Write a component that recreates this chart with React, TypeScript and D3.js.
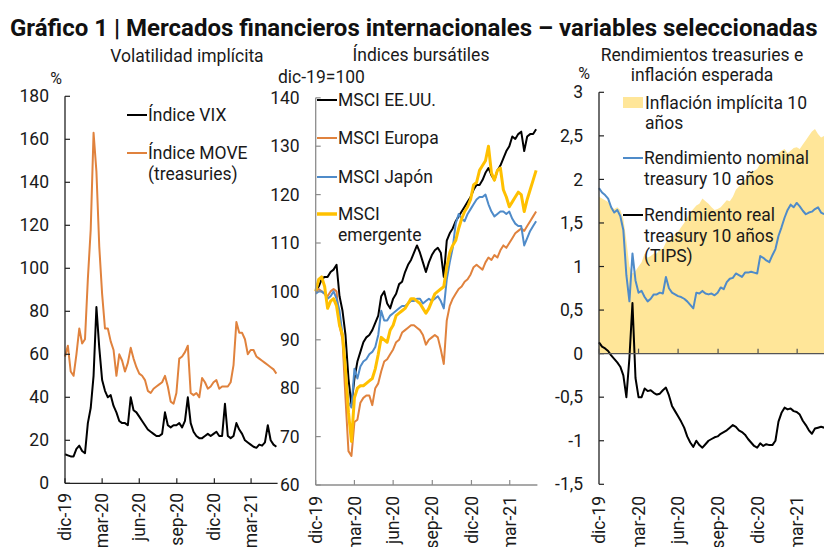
import React from "react";
import * as d3 from "d3";

// weekly observations, from end of December 2019 to early June 2021
const weeks = d3.timeDay.range(new Date(2019, 11, 31), new Date(2021, 5, 2), 7);
const endDate = new Date(2021, 5, 4);

const tickDates = [
  new Date(2019, 11, 31),
  new Date(2020, 2, 31),
  new Date(2020, 5, 30),
  new Date(2020, 8, 30),
  new Date(2020, 11, 31),
  new Date(2021, 2, 31),
];
const tickLabels = ["dic-19", "mar-20", "jun-20", "sep-20", "dic-20", "mar-21"];

// Volatilidad implícita (%)
const vix = [
  13.5, 13, 12.5, 12.5, 16, 17.5, 15, 14, 28, 35,
  50, 82, 63, 48, 43, 40, 41, 36, 33, 29,
  28, 28, 27, 40, 34, 33, 31, 29, 27, 25,
  24, 23, 22, 22, 23, 33, 27, 26, 27, 27,
  28, 26, 29, 40, 28, 24, 22, 21, 21, 22,
  23, 22, 23, 24, 22, 22, 37, 22, 21, 22,
  28, 25, 23, 20, 19, 18, 17, 16.5, 18, 17.5,
  19, 27, 20, 18, 17,
];
const move = [
  59, 64, 52, 50, 60, 72, 65, 67, 95, 118,
  163, 145, 110, 88, 72, 72, 66, 62, 50, 60,
  57, 52, 56, 63, 58, 54, 51, 50, 48, 43,
  42, 44, 45, 46, 47, 50, 45, 38, 37, 42,
  58, 59, 61, 64, 42, 41, 42, 40, 49, 47,
  44, 45, 47, 48, 44, 45, 45, 45, 47, 55,
  75, 70, 70, 67, 60, 62, 62, 59, 58, 57,
  56, 55, 54, 53, 51,
];

// Índices bursátiles (dic-19 = 100)
const msciUS = [
  100, 101, 102.5, 103, 103, 104, 104.5, 105.5, 99, 96,
  91, 82, 76.5, 82, 85.5, 87.5, 89.5, 90.5, 91, 92,
  93.5, 95, 99, 100, 97.5, 96.5, 98.5, 99.5, 101.5, 102,
  104, 105.5, 106.5, 108, 109.5, 108, 106, 104, 106, 107.5,
  108.5, 109, 108, 103, 110.5, 112, 113, 114.5, 115.5, 116.5,
  117.5, 118.5, 119.5, 121, 122, 122, 123, 124.5, 125.5, 124,
  123, 125, 126, 127.5, 129, 130, 132, 131.5, 132.5, 133,
  129, 132, 132.5, 132.5, 133.5,
];
const msciEurope = [
  100, 100.5, 100, 99.5, 99, 100, 100.5, 100, 93, 90,
  78, 67, 66, 73, 73.5, 77, 78, 78.5, 78.5, 76.5,
  80, 81, 83.5, 85.5, 86, 87, 88, 89.5, 90, 91.5,
  92, 92.5, 93, 93, 92.5, 92, 91, 89, 90, 90.5,
  91, 90.5, 88, 85, 94, 97, 98.5, 99.5, 100.5, 101,
  102, 102.5, 103.5, 105, 105.5, 105, 104.5, 106, 107, 106.5,
  107.5, 107, 108.5, 109.5, 109, 110, 111, 112, 112.5, 113,
  112.5, 113.5, 114.5, 115.5, 116.5,
];
const msciJapan = [
  99.5, 100, 100, 99.5, 98.5, 99, 100, 98.5, 96, 91,
  83, 77, 76, 84, 82, 84.5, 85.5, 86, 87, 87.5,
  88.5, 91, 96, 94, 94, 95, 95.5, 96, 96.5, 97,
  97, 97.5, 98, 98, 98.5, 98.5, 97.5, 98, 98.5, 98,
  98.5, 99, 98, 96.5, 102.5, 106, 109, 114, 116, 115,
  114.5, 116, 117, 118, 119, 119.5, 119.5, 120, 118, 116.5,
  115.5, 116, 116.5, 116.5, 116, 116.5, 115, 114, 113.5, 113.5,
  109.5, 111, 112.5, 113.5, 114.5,
];
const msciEmerging = [
  100, 102.5, 103, 101, 96.5, 98, 98.5, 97, 93, 91,
  84, 75, 69, 78, 80, 80.5, 80.5, 81, 81.5, 82,
  84, 87, 90.5, 90, 89.5, 92, 93, 95, 95.5, 96,
  96.5, 97.5, 98.5, 98.5, 98, 97.5, 96.5, 95.5, 96.5, 98,
  99.5, 100, 100.5, 101, 105, 108, 109.5, 110.5, 113, 115,
  116.5, 117.5, 119, 122, 122.5, 125, 126, 127, 130, 124.5,
  123, 125, 125.5, 121, 119.5, 117.5, 118.5, 119.5, 120.5, 120,
  116.5, 119, 121, 123, 125,
];

// Rendimientos treasuries e inflación esperada (%)
const breakeven = [
  1.8, 1.78, 1.76, 1.74, 1.68, 1.66, 1.68, 1.65, 1.55, 1.3,
  1.0, 0.92, 0.95, 1.0, 1.05, 1.15, 1.1, 1.12, 1.15, 1.15,
  1.2, 1.2, 1.28, 1.3, 1.32, 1.38, 1.4, 1.45, 1.5, 1.56,
  1.62, 1.66, 1.7, 1.72, 1.78, 1.75, 1.72, 1.68, 1.65, 1.66,
  1.68, 1.72, 1.76, 1.75, 1.8, 1.88, 1.92, 1.95, 2.0, 2.03,
  2.08, 2.1, 2.12, 2.18, 2.2, 2.22, 2.2, 2.28, 2.25, 2.3,
  2.33, 2.35, 2.3, 2.33, 2.36, 2.37, 2.35, 2.4, 2.45, 2.5,
  2.55, 2.58, 2.52, 2.48, 2.5,
];
const nominal10y = [
  1.9, 1.85, 1.82, 1.78, 1.68, 1.62, 1.65, 1.58, 1.42, 0.9,
  0.6, 1.15, 0.84, 0.7, 0.72, 0.65, 0.6, 0.63, 0.68, 0.68,
  0.7, 0.69, 0.88, 0.75, 0.7, 0.68, 0.66, 0.65, 0.63, 0.6,
  0.56, 0.52, 0.7, 0.69, 0.72, 0.69, 0.68, 0.69, 0.67, 0.7,
  0.76, 0.74, 0.82, 0.86, 0.87, 0.92, 0.9, 0.88, 0.93, 0.93,
  0.94, 0.93, 0.92, 1.12, 1.1, 1.07, 1.05, 1.13, 1.2, 1.35,
  1.45, 1.56, 1.65, 1.71, 1.68, 1.73, 1.69, 1.64, 1.6, 1.62,
  1.63, 1.66, 1.68, 1.62, 1.6,
];
const real10y = [
  0.13, 0.08, 0.06, 0.03, -0.02, -0.06, -0.1, -0.15, -0.25, -0.5,
  -0.05, 0.58, -0.28, -0.5, -0.5, -0.4, -0.43, -0.42, -0.45, -0.47,
  -0.46, -0.42, -0.39, -0.48, -0.6, -0.66, -0.72, -0.78, -0.85, -0.95,
  -1.02, -1.07, -1.0, -1.05, -1.08, -1.04, -1.0, -0.98, -0.96, -0.95,
  -0.92, -0.9, -0.88, -0.85, -0.82, -0.84, -0.88, -0.9, -0.93, -0.98,
  -1.02, -1.06, -1.08, -1.03, -1.06, -1.04, -1.05, -1.05, -1.0, -0.78,
  -0.68, -0.62, -0.64, -0.63, -0.66, -0.67, -0.7, -0.77, -0.82, -0.88,
  -0.92, -0.86, -0.85, -0.84, -0.85,
];

const FONT = "Roboto, 'Noto Sans', sans-serif";
const TXT = "#1a1a1a";
const FS = 17.5;

const ORANGE = "#E0823D";
const BLUE = "#4F8BC9";
const YELLOW = "#FFC000";
const FILL = "#FFE699";

type Lin = d3.ScaleLinear<number, number>;
type Tim = d3.ScaleTime<number, number>;

function makeLine(x: Tim, y: Lin) {
  return d3
    .line<number>()
    .x((_, i) => x(weeks[i]))
    .y((d) => y(d));
}

function YAxis({ x, y, ticks, color, fmt }: { x: number; y: Lin; ticks: number[]; color: string; fmt?: (v: number) => string }) {
  const [a, b] = y.range();
  return (
    <g>
      <line x1={x} x2={x} y1={a} y2={b} stroke={color} strokeWidth={1.3} />
      {ticks.map((t) => (
        <g key={t}>
          <line x1={x} x2={x + 5} y1={y(t)} y2={y(t)} stroke={color} strokeWidth={1.2} />
          <text x={x - 16} y={y(t)} dy="0.35em" textAnchor="end" fontSize={FS} fill={TXT}>
            {fmt ? fmt(t) : t}
          </text>
        </g>
      ))}
    </g>
  );
}

function XAxis({ x, yLine, yLabel, color }: { x: Tim; yLine: number; yLabel: number; color: string }) {
  const [a, b] = x.range();
  return (
    <g>
      <line x1={a} x2={b} y1={yLine} y2={yLine} stroke={color} strokeWidth={1.3} />
      {tickDates.map((d, i) => (
        <g key={i}>
          <line x1={x(d)} x2={x(d)} y1={yLine} y2={yLine - 5} stroke={color} strokeWidth={1.2} />
          <text
            transform={`translate(${x(d)},${yLabel}) rotate(-90)`}
            dy="0.35em"
            textAnchor="end"
            fontSize={FS}
            fill={TXT}
          >
            {tickLabels[i]}
          </text>
        </g>
      ))}
    </g>
  );
}

function LegendLine({ x, y, color, width = 2, lines }: { x: number; y: number; color: string; width?: number; lines: string[] }) {
  return (
    <g>
      <line x1={x} x2={x + 20} y1={y} y2={y} stroke={color} strokeWidth={width} />
      {lines.map((t, i) => (
        <text key={i} x={x + 21} y={y + i * 20.5} dy="0.35em" fontSize={FS} fill={TXT}>
          {t}
        </text>
      ))}
    </g>
  );
}

export default function App() {
  const start = weeks[0];

  // panel 1 – volatilidad
  const xA = d3.scaleTime().domain([start, endDate]).range([65, 277.6]);
  const yA = d3.scaleLinear().domain([0, 180]).range([483.3, 96.3]);
  const lineA = makeLine(xA, yA);

  // panel 2 – bolsas
  const xB = d3.scaleTime().domain([start, endDate]).range([315.7, 537.4]);
  const yB = d3.scaleLinear().domain([60, 140]).range([485, 97.8]);
  const lineB = makeLine(xB, yB);

  // panel 3 – tasas
  const xC = d3.scaleTime().domain([start, endDate]).range([599, 825.4]);
  const yC = d3.scaleLinear().domain([-1.5, 3]).range([484.3, 92.3]);
  const lineC = makeLine(xC, yC);
  const areaC = d3
    .area<number>()
    .x((_, i) => xC(weeks[i]))
    .y0(yC(0))
    .y1((d) => yC(d));

  const comma = (v: number) => String(v).replace(".", ",");

  return (
    <svg
      width={824}
      height={547}
      style={{ position: "absolute", left: 0, top: 0, background: "#fff" }}
      fontFamily={FONT}
    >
      <rect width={824} height={547} fill="#fff" />
      <text x={10} y={36} fontSize={24} fontWeight={700} fill="#111">
        Gráfico 1 | Mercados financieros internacionales – variables seleccionadas
      </text>

      {/* Volatilidad implícita */}
      <text x={187} y={62} textAnchor="middle" fontSize={FS} fill={TXT}>
        Volatilidad implícita
      </text>
      <text x={56} y={84} textAnchor="middle" fontSize={16} fill={TXT}>
        %
      </text>
      <path d={lineA(move) ?? ""} fill="none" stroke={ORANGE} strokeWidth={2} strokeLinejoin="round" />
      <path d={lineA(vix) ?? ""} fill="none" stroke="#000" strokeWidth={2} strokeLinejoin="round" />
      <YAxis x={65} y={yA} ticks={d3.range(0, 181, 20)} color="#222" />
      <XAxis x={xA} yLine={483.3} yLabel={493} color="#222" />
      <LegendLine x={127} y={115} color="#000" lines={["Índice VIX"]} />
      <LegendLine x={127} y={153} color={ORANGE} lines={["Índice MOVE", "(treasuries)"]} />

      {/* Índices bursátiles */}
      <text x={421} y={61} textAnchor="middle" fontSize={FS} fill={TXT}>
        Índices bursátiles
      </text>
      <text x={278} y={83} fontSize={FS} fill={TXT}>
        dic-19=100
      </text>
      <path d={lineB(msciUS) ?? ""} fill="none" stroke="#000" strokeWidth={2} strokeLinejoin="round" />
      <path d={lineB(msciEurope) ?? ""} fill="none" stroke={ORANGE} strokeWidth={2} strokeLinejoin="round" />
      <path d={lineB(msciJapan) ?? ""} fill="none" stroke={BLUE} strokeWidth={2} strokeLinejoin="round" />
      <path d={lineB(msciEmerging) ?? ""} fill="none" stroke={YELLOW} strokeWidth={3} strokeLinejoin="round" />
      <YAxis x={315.7} y={yB} ticks={d3.range(60, 141, 10)} color="#8c8c8c" />
      <XAxis x={xB} yLine={485} yLabel={496} color="#8c8c8c" />
      <LegendLine x={317} y={100} color="#000" lines={["MSCI EE.UU."]} />
      <LegendLine x={317} y={138} color={ORANGE} lines={["MSCI Europa"]} />
      <LegendLine x={317} y={177} color={BLUE} lines={["MSCI Japón"]} />
      <LegendLine x={317} y={214} color={YELLOW} width={3.5} lines={["MSCI", "emergente"]} />

      {/* Rendimientos treasuries e inflación esperada */}
      <text x={702} y={61} textAnchor="middle" fontSize={FS} fill={TXT}>
        Rendimientos treasuries e
      </text>
      <text x={702} y={81} textAnchor="middle" fontSize={FS} fill={TXT}>
        inflación esperada
      </text>
      <text x={584} y={79} textAnchor="middle" fontSize={16} fill={TXT}>
        %
      </text>
      <path d={areaC(breakeven) ?? ""} fill={FILL} stroke="none" />
      <path d={lineC(nominal10y) ?? ""} fill="none" stroke={BLUE} strokeWidth={2} strokeLinejoin="round" />
      <path d={lineC(real10y) ?? ""} fill="none" stroke="#000" strokeWidth={2} strokeLinejoin="round" />
      <YAxis x={599} y={yC} ticks={d3.range(-1.5, 3.01, 0.5)} color="#222" fmt={comma} />
      <XAxis x={xC} yLine={yC(0)} yLabel={496} color="#555" />
      <rect x={623} y={97} width={20} height={11} fill={FILL} />
      <text x={645} y={102.5} dy="0.35em" fontSize={FS} fill={TXT}>
        Inflación implícita 10
      </text>
      <text x={645} y={123} dy="0.35em" fontSize={FS} fill={TXT}>
        años
      </text>
      <LegendLine x={623} y={158} color={BLUE} lines={["Rendimiento nominal", "treasury 10 años"]} />
      <LegendLine x={623} y={215} color="#000" lines={["Rendimiento real", "treasury 10 años", "(TIPS)"]} />
    </svg>
  );
}
